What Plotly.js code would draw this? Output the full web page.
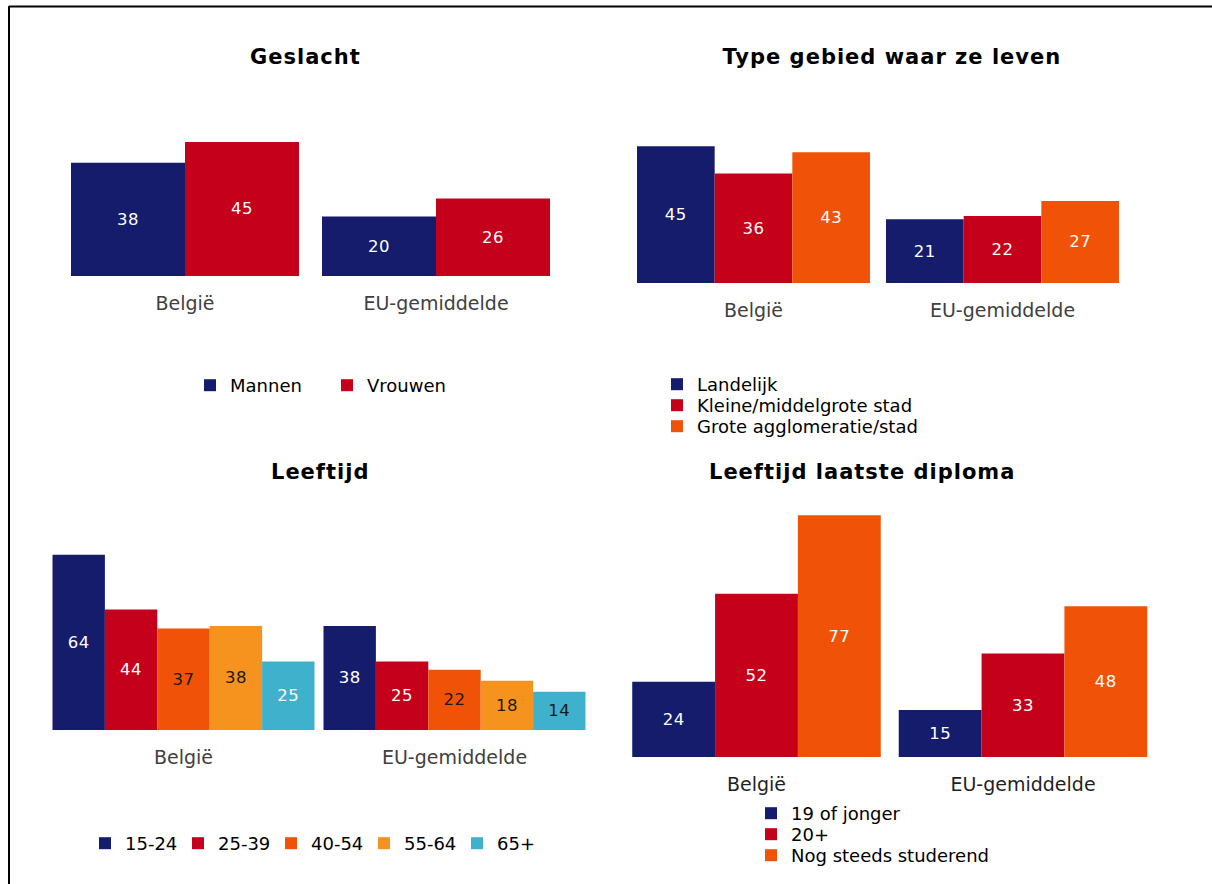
<!DOCTYPE html>
<html>
<head>
<meta charset="utf-8">
<script src="https://cdn.plot.ly/plotly-3.0.1.min.js"></script>
<style>
  html, body { margin: 0; padding: 0; background: #ffffff; }
  #chart { width: 1212px; height: 884px; }
  #chart .annotation-text { letter-spacing: 1px; }
  #chart .bartext { letter-spacing: 0.5px; }
</style>
</head>
<body>
<div id="chart"></div>
<script>
// ---------- data ----------
const categories = ['België', 'EU-gemiddelde'];

const geslachtNames = ['Mannen', 'Vrouwen'];
const geslachtMannen = [38, 20];
const geslachtVrouwen = [45, 26];

const gebiedNames = ['Landelijk', 'Kleine/middelgrote stad', 'Grote agglomeratie/stad'];
const gebiedLandelijk = [45, 21];
const gebiedKleine = [36, 22];
const gebiedGrote = [43, 27];

const leeftijdNames = ['15-24', '25-39', '40-54', '55-64', '65+'];
const leeftijd1524 = [64, 38];
const leeftijd2539 = [44, 25];
const leeftijd4054 = [37, 22];
const leeftijd5564 = [38, 18];
const leeftijd65plus = [25, 14];

const diplomaNames = ['19 of jonger', '20+', 'Nog steeds studerend'];
const diploma19 = [24, 15];
const diploma20 = [52, 33];
const diplomaStud = [77, 48];

const panelTitles = ['Geslacht', 'Type gebied waar ze leven', 'Leeftijd', 'Leeftijd laatste diploma'];

// ---------- styles ----------
const NAVY = '#151c6b', RED = '#c4001a', ORANGE = '#f05307', LORANGE = '#f6921e', CYAN = '#40b1cd';
const W = 1212, H = 884;
const FONT = 'DejaVu Sans, Verdana, sans-serif';
const px = v => v / W;
const py = v => 1 - v / H;

// panel geometry (pixels): x-range [-0.5,1.5] spans [left,right]; baseline and top pixel for y range
const panels = [
  {left: 59.5, right: 561.5, base: 276, top: 127, ymax: 50, group: 0.9084, tick: '#404040',
   titleX: 305, titleY: 57},
  {left: 629, right: 1127, base: 283, top: 131, ymax: 50, group: 0.9357, tick: '#404040',
   titleX: 892, titleY: 57},
  {left: 48, right: 590, base: 730, top: 538.2, ymax: 70, group: 0.9668, tick: '#404040',
   titleX: 320, titleY: 472},
  {left: 623.25, right: 1156.25, base: 757, top: 505.8, ymax: 80, group: 0.9325, tick: '#1f1f1f',
   titleX: 862, titleY: 472}
];

const series = [
  [{name: geslachtNames[0], y: geslachtMannen, color: NAVY, tc: ['#fff', '#fff'], legend: 'legend'},
   {name: geslachtNames[1], y: geslachtVrouwen, color: RED, tc: ['#fff', '#fff'], legend: 'legend'}],
  [{name: gebiedNames[0], y: gebiedLandelijk, color: NAVY, tc: ['#fff', '#fff'], legend: 'legend2'},
   {name: gebiedNames[1], y: gebiedKleine, color: RED, tc: ['#fff', '#fff'], legend: 'legend3'},
   {name: gebiedNames[2], y: gebiedGrote, color: ORANGE, tc: ['#fff', '#fff'], legend: 'legend4'}],
  [{name: leeftijdNames[0], y: leeftijd1524, color: NAVY, tc: ['#fff', '#fff'], legend: 'legend5'},
   {name: leeftijdNames[1], y: leeftijd2539, color: RED, tc: ['#fff', '#fff'], legend: 'legend5'},
   {name: leeftijdNames[2], y: leeftijd4054, color: ORANGE, tc: ['#1a1a1a', '#1a1a1a'], legend: 'legend5'},
   {name: leeftijdNames[3], y: leeftijd5564, color: LORANGE, tc: ['#1a1a1a', '#1a1a1a'], legend: 'legend5'},
   {name: leeftijdNames[4], y: leeftijd65plus, color: CYAN, tc: ['#fff', '#1a1a1a'], legend: 'legend5'}],
  [{name: diplomaNames[0], y: diploma19, color: NAVY, tc: ['#fff', '#fff'], legend: 'legend6'},
   {name: diplomaNames[1], y: diploma20, color: RED, tc: ['#fff', '#fff'], legend: 'legend7'},
   {name: diplomaNames[2], y: diplomaStud, color: ORANGE, tc: ['#fff', '#fff'], legend: 'legend8'}]
];

const data = [];
const layout = {
  width: W, height: H,
  margin: {l: 0, r: 0, t: 0, b: 0},
  paper_bgcolor: '#ffffff', plot_bgcolor: 'rgba(0,0,0,0)',
  barmode: 'group',
  font: {family: FONT, color: '#000'},
  annotations: [],
  shapes: [
    {type: 'line', xref: 'paper', yref: 'paper', x0: px(9), x1: px(1212), y0: py(6.5), y1: py(6.5),
     line: {color: '#000', width: 2}},
    {type: 'line', xref: 'paper', yref: 'paper', x0: px(9), x1: px(9), y0: py(6), y1: py(884),
     line: {color: '#000', width: 2}}
  ],
  hovermode: false
};

panels.forEach((p, i) => {
  const n = i + 1;
  const xa = n === 1 ? 'x' : 'x' + n;
  const ya = n === 1 ? 'y' : 'y' + n;
  const s = series[i];
  const bw = p.group / s.length;
  s.forEach((t, j) => {
    data.push({
      type: 'bar', name: t.name, x: categories, y: t.y,
      xaxis: xa, yaxis: ya, legend: t.legend,
      width: bw, offset: -p.group / 2 + j * bw,
      marker: {color: t.color, line: {width: 0}},
      text: t.y.map(String), texttemplate: '%{y}',
      textposition: 'inside', insidetextanchor: 'middle', textangle: 0,
      constraintext: 'none',
      textfont: {family: FONT, size: 16.5, color: t.tc},
      cliponaxis: false
    });
  });
  layout['xaxis' + (n === 1 ? '' : n)] = {
    domain: [px(p.left), px(p.right)], range: [-0.5, 1.5], anchor: ya,
    type: 'category', showgrid: false, zeroline: false, showline: false, ticks: '',
    tickfont: {family: FONT, size: 19, color: p.tick}, ticklabelstandoff: 14, fixedrange: true
  };
  layout['yaxis' + (n === 1 ? '' : n)] = {
    domain: [py(p.base), py(p.top)], range: [0, p.ymax], anchor: xa,
    visible: false, showgrid: false, zeroline: false, fixedrange: true
  };
  layout.annotations.push({
    text: '<b>' + panelTitles[i] + '</b>', xref: 'paper', yref: 'paper',
    x: px(p.titleX), y: py(p.titleY), xanchor: 'center', yanchor: 'middle', showarrow: false,
    font: {family: FONT, size: 21, color: '#000'}
  });
});

const legendBase = {bgcolor: 'rgba(0,0,0,0)', borderwidth: 0, xanchor: 'left', yanchor: 'top',
  font: {family: FONT, size: 18, color: '#000'}, traceorder: 'normal'};
const legendPos = {
  legend: {x: 190, y: 367, orientation: 'h', entrywidth: 92},
  legend2: {x: 657, y: 366, orientation: 'v'},
  legend3: {x: 657, y: 387, orientation: 'v'},
  legend4: {x: 657, y: 408, orientation: 'v'},
  legend5: {x: 85, y: 825, orientation: 'h', entrywidth: 48},
  legend6: {x: 751, y: 795, orientation: 'v'},
  legend7: {x: 751, y: 816, orientation: 'v'},
  legend8: {x: 751, y: 837, orientation: 'v'}
};
Object.keys(legendPos).forEach(k => {
  const l = legendPos[k];
  layout[k] = Object.assign({}, legendBase, {
    x: px(l.x), y: py(l.y), orientation: l.orientation
  }, l.entrywidth ? {entrywidth: l.entrywidth, entrywidthmode: 'pixels'} : {});
});

Plotly.newPlot('chart', data, layout, {displayModeBar: false, staticPlot: true});
</script>
</body>
</html>
